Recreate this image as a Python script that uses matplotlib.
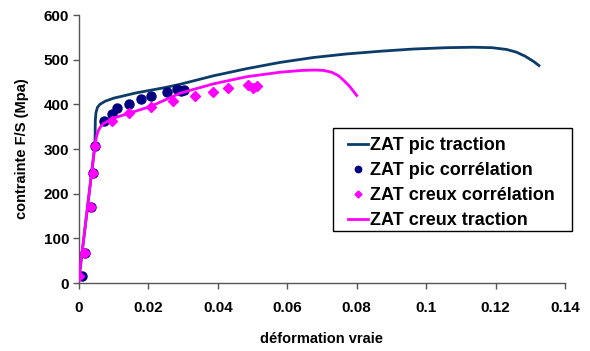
import matplotlib
matplotlib.use("Agg")
import matplotlib.pyplot as plt
from matplotlib.patches import Rectangle

plt.rcParams['font.family'] = ['Liberation Sans', 'DejaVu Sans']
plt.rcParams['font.weight'] = 'bold'

# ZAT pic traction (curve)
pic_tr_x = [0.0, 0.0046, 0.0047, 0.0049, 0.0053, 0.0060, 0.0075, 0.0100, 0.0166, 0.0250,
            0.0291, 0.0387, 0.0483, 0.0579, 0.0675, 0.0771, 0.0867, 0.0963, 0.1059, 0.1136,
            0.1190, 0.1232, 0.1260, 0.1285, 0.1310, 0.1325]
pic_tr_y = [10, 310, 365, 382, 393, 400, 407, 414, 426, 438,
            445, 464, 480, 494, 505, 513, 519, 524, 527, 528,
            527, 523, 517, 508, 496, 487]

# ZAT pic corrélation (points)
pic_co_x = [0.0009, 0.0017, 0.0034, 0.0039, 0.0046, 0.0073, 0.0094, 0.0109, 0.0145,
            0.0178, 0.0207, 0.0254, 0.0281, 0.0293, 0.0303]
pic_co_y = [16, 67, 171, 247, 306, 362, 378, 391, 402, 412, 419, 427, 434, 430, 432]

# ZAT creux corrélation (points)
cr_co_x = [0.0001, 0.0016, 0.0034, 0.0039, 0.0046, 0.0096, 0.0145, 0.0206, 0.0272,
           0.0334, 0.0387, 0.0430, 0.0488, 0.0502, 0.0514]
cr_co_y = [16, 67, 171, 247, 306, 363, 380, 395, 408, 419, 428, 437, 443, 436, 441]

# ZAT creux traction (curve)
cr_tr_x = [0.0, 0.0046, 0.0051, 0.0056, 0.0063, 0.0070, 0.0099, 0.0147, 0.0205, 0.0291,
           0.0387, 0.0483, 0.0579, 0.0640, 0.0680, 0.0705, 0.0728, 0.0748, 0.0765, 0.0780,
           0.0792, 0.0800]
cr_tr_y = [12, 309, 330, 342, 351, 357, 369, 381, 395, 425,
           446, 462, 472, 476, 477, 476, 472, 464, 452, 440,
           428, 420]

x_ticks = [0, 0.02, 0.04, 0.06, 0.08, 0.1, 0.12, 0.14]
x_tick_labels = ['0', '0.02', '0.04', '0.06', '0.08', '0.1', '0.12', '0.14']
y_ticks = [0, 100, 200, 300, 400, 500, 600]

fig = plt.figure(figsize=(5.9, 3.51), dpi=100)
ax = fig.add_axes([0.1339, 0.1937, 0.8237, 0.7633])

ax.plot(pic_tr_x, pic_tr_y, color='#0B3C6A', lw=2, label='ZAT pic traction', zorder=2)
ax.plot(pic_co_x, pic_co_y, linestyle='none', marker='o', ms=6.5, color='#000080',
        label='ZAT pic corrélation', zorder=3)
ax.plot(cr_co_x, cr_co_y, linestyle='none', marker='D', ms=5, color='#FF00FF',
        label='ZAT creux corrélation', zorder=4)
ax.plot(cr_tr_x, cr_tr_y, color='#FF00FF', lw=2, label='ZAT creux traction', zorder=5)

ax.set_xlim(0, 0.14)
ax.set_ylim(0, 600)
ax.set_xticks(x_ticks)
ax.set_xticklabels(x_tick_labels)
ax.set_yticks(y_ticks)
ax.tick_params(axis='both', direction='out', length=4, width=1, labelsize=11, color='#555555')
ax.tick_params(axis='x', pad=9)
ax.tick_params(axis='y', pad=3)
for lab in ax.get_xticklabels() + ax.get_yticklabels():
    lab.set_fontweight('bold')
for s in ['top', 'right']:
    ax.spines[s].set_visible(False)
for s in ['left', 'bottom']:
    ax.spines[s].set_color('#555555')
    ax.spines[s].set_linewidth(1)

ax.set_xlabel('déformation vraie', fontsize=10.5, fontweight='bold', labelpad=12)
ax.set_ylabel('contrainte F/S (Mpa)', fontsize=10.5, fontweight='bold', labelpad=11)

# legend frame drawn separately (wider horizontal padding than vertical)
frame = Rectangle((0.5226, 0.194), 1.0144 - 0.5226, 0.578 - 0.194, transform=ax.transAxes,
                  facecolor='white', edgecolor='black', lw=1, clip_on=False, zorder=6)
ax.add_patch(frame)

leg = ax.legend(loc='upper left', bbox_to_anchor=(0.553, 0.545), fontsize=13,
                frameon=False, handlelength=1.1, handletextpad=0.15, borderpad=0,
                labelspacing=0.45, markerscale=0.7, borderaxespad=0)
leg.set_zorder(7)
for t in leg.get_texts():
    t.set_fontweight('bold')

fig.savefig('out.png', dpi=100)
